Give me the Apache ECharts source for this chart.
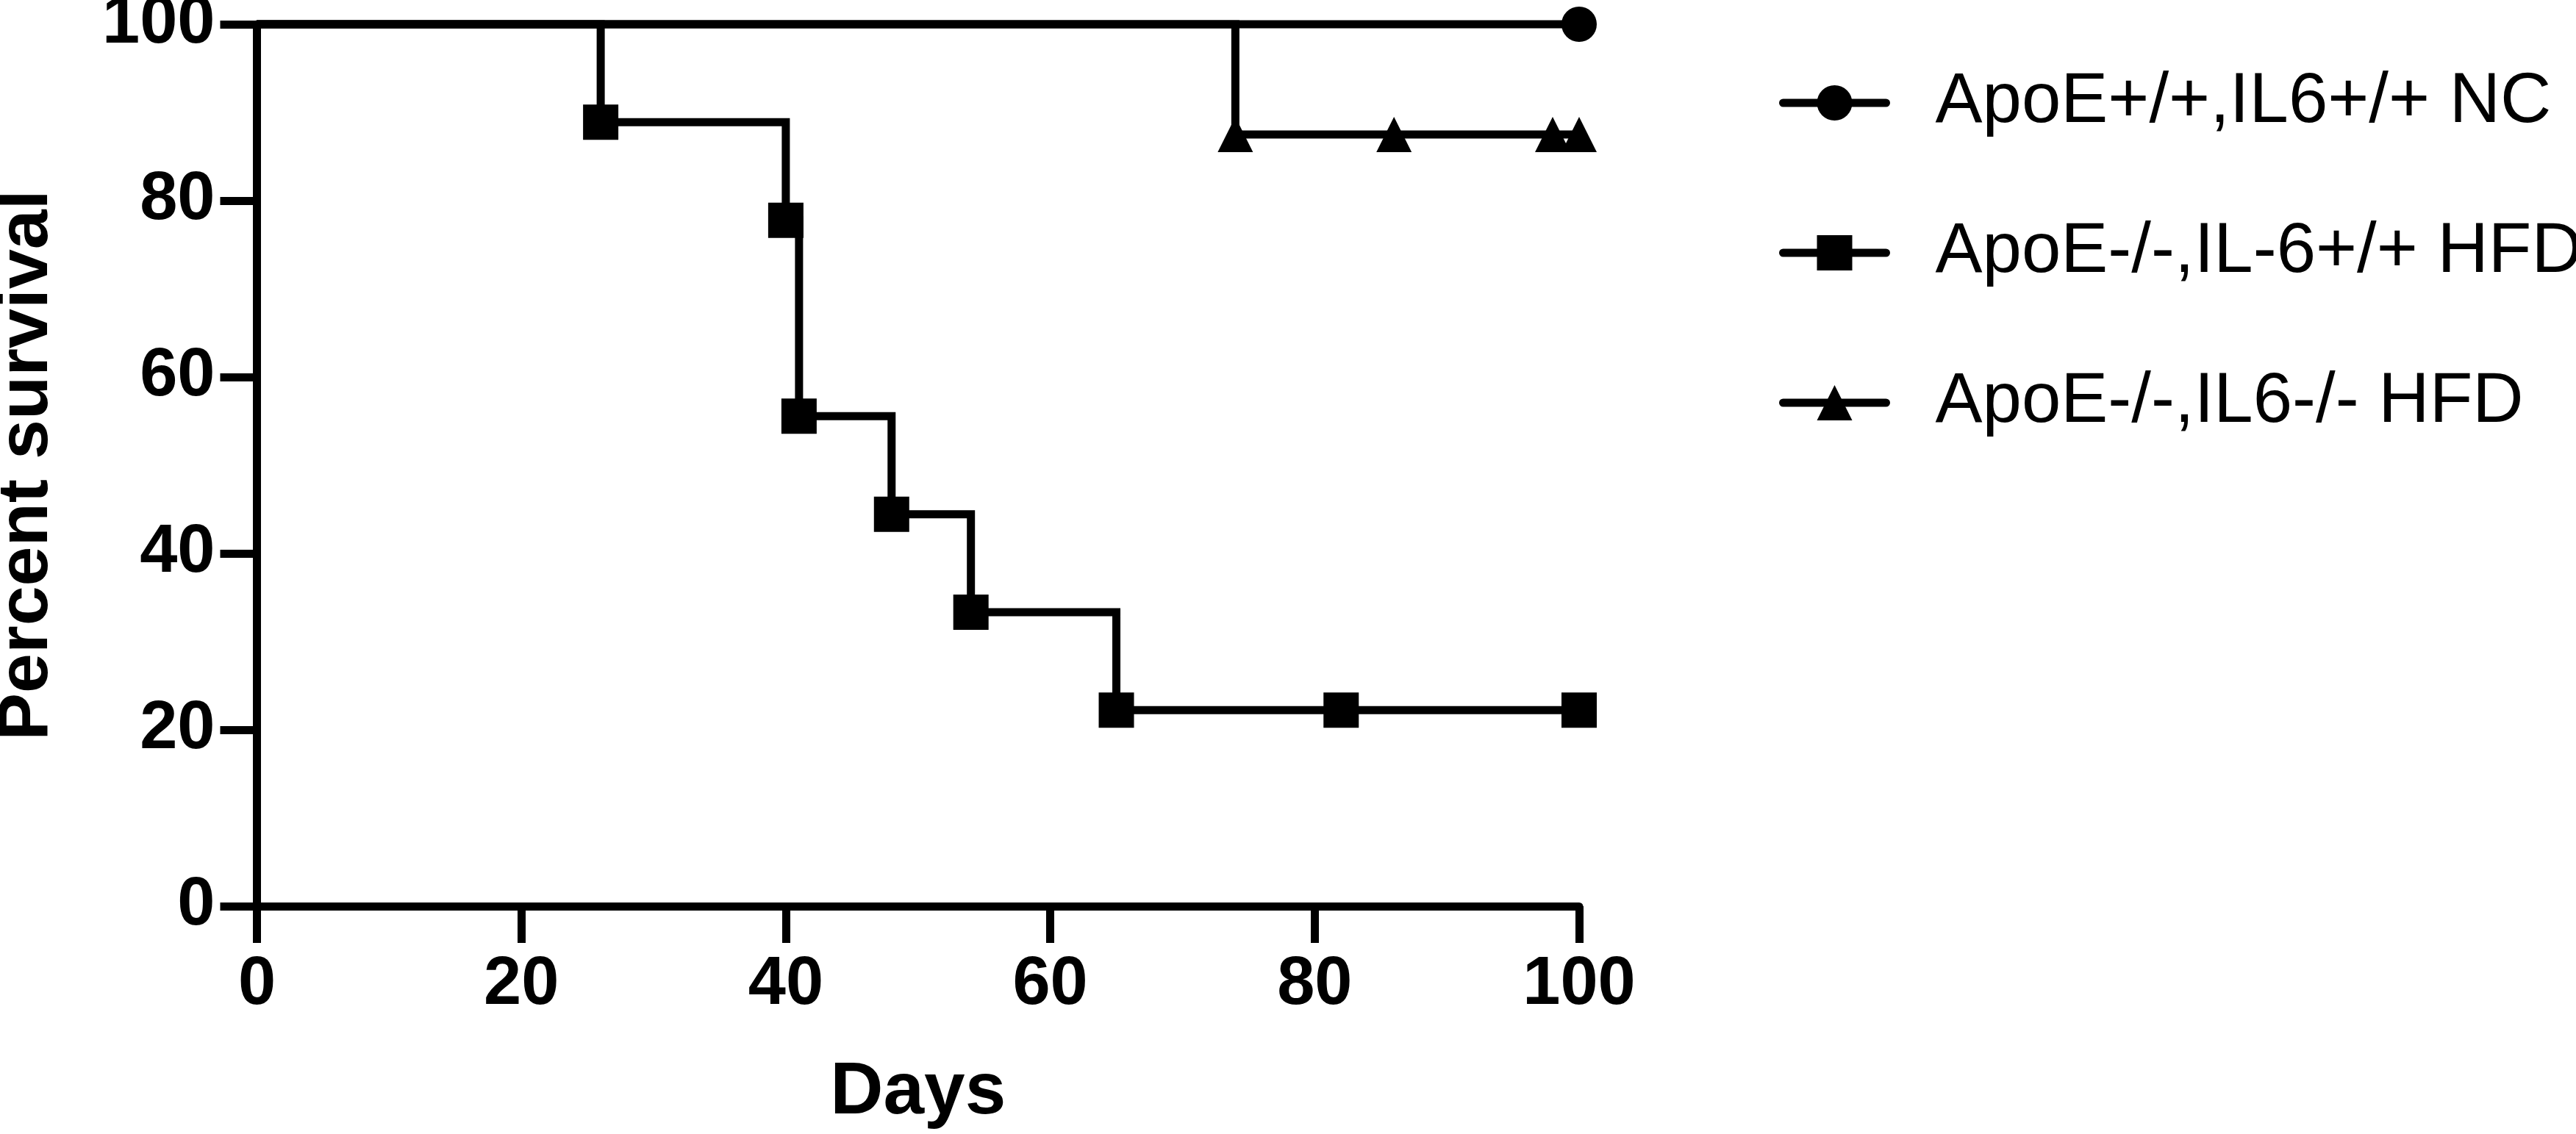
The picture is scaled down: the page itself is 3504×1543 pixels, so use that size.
<!DOCTYPE html>
<html>
<head>
<meta charset="utf-8">
<script src="https://cdn.jsdelivr.net/npm/echarts@6/dist/echarts.min.js"></script>
<style>
html, body { margin: 0; padding: 0; background: #fff; }
#chart { width: 3504px; height: 1543px; }
</style>
</head>
<body>
<div id="chart"></div>
<script>
// ---- data ----
const xTicks = [0, 20, 40, 60, 80, 100];
const yTicks = [0, 20, 40, 60, 80, 100];

const seriesNames = ['ApoE+/+,IL6+/+ NC', 'ApoE-/-,IL-6+/+ HFD', 'ApoE-/-,IL6-/- HFD'];

const ncDays = [0, 100];
const ncSurvival = [100, 100];

const hfdDays = [0, 26, 40, 41, 48, 54, 65, 82, 100];
const hfdSurvival = [100, 88.89, 77.78, 55.56, 44.44, 33.33, 22.22, 22.22, 22.22];

const koDays = [0, 74, 86, 98, 100];
const koSurvival = [100, 87.5, 87.5, 87.5, 87.5];

// ---- build ----
function toData(days, surv) {
  return days.map((d, i) => i === 0 ? { value: [d, surv[i]], symbol: 'none' } : { value: [d, surv[i]] });
}

const FONT = '"Liberation Sans", Arial, Helvetica, sans-serif';

function makeSeries(name, days, surv, symbol) {
  return {
    name: name,
    type: 'line',
    step: 'end',
    data: toData(days, surv),
    symbol: symbol,
    symbolSize: 48,
    showSymbol: true,
    showAllSymbol: true,
    clip: false,
    color: '#000',
    lineStyle: { color: '#000', width: 11, cap: 'butt', join: 'miter' },
    itemStyle: { color: '#000', opacity: 1 },
    emphasis: { disabled: true },
    animation: false
  };
}

const chart = echarts.init(document.getElementById('chart'), null, { renderer: 'canvas' });

const axisCommon = {
  type: 'value',
  min: 0,
  max: 100,
  interval: 20,
  axisLine: { show: true, onZero: false, lineStyle: { color: '#000', width: 11 } },
  axisTick: { show: true, inside: false, length: 50, lineStyle: { color: '#000', width: 11 } },
  splitLine: { show: false },
  axisLabel: { color: '#000', fontFamily: FONT, fontWeight: 'bold', fontSize: 92, lineHeight: 92 },
  nameLocation: 'middle',
  nameTextStyle: { color: '#000', fontFamily: FONT, fontWeight: 'bold', fontSize: 100, lineHeight: 100 }
};

chart.setOption({
  backgroundColor: '#fff',
  animation: false,
  grid: { left: 349.5, top: 33, width: 1798.5, height: 1200, containLabel: false, outerBoundsMode: 'none' },
  xAxis: Object.assign({}, axisCommon, {
    name: 'Days',
    nameGap: 204,
    axisLabel: Object.assign({}, axisCommon.axisLabel, { margin: 62, customValues: xTicks })
  }),
  yAxis: Object.assign({}, axisCommon, {
    name: 'Percent survival',
    nameGap: 264,
    nameTextStyle: Object.assign({}, axisCommon.nameTextStyle, { fontSize: 97, lineHeight: 97 }),
    axisLabel: Object.assign({}, axisCommon.axisLabel, { margin: 57, customValues: yTicks })
  }),
  legend: {
    orient: 'vertical',
    left: 2415,
    top: 87,
    itemWidth: 140,
    itemHeight: 60,
    itemGap: 108,
    selectedMode: false,
    data: seriesNames,
    lineStyle: { width: 11, color: '#000', cap: 'round' },
    itemStyle: { color: '#000' },
    textStyle: { color: '#000', fontFamily: FONT, fontSize: 96, lineHeight: 60, padding: [0, 0, 0, 62] }
  },
  series: [
    makeSeries(seriesNames[0], ncDays, ncSurvival, 'circle'),
    makeSeries(seriesNames[1], hfdDays, hfdSurvival, 'rect'),
    makeSeries(seriesNames[2], koDays, koSurvival, 'triangle')
  ]
});
</script>
</body>
</html>
